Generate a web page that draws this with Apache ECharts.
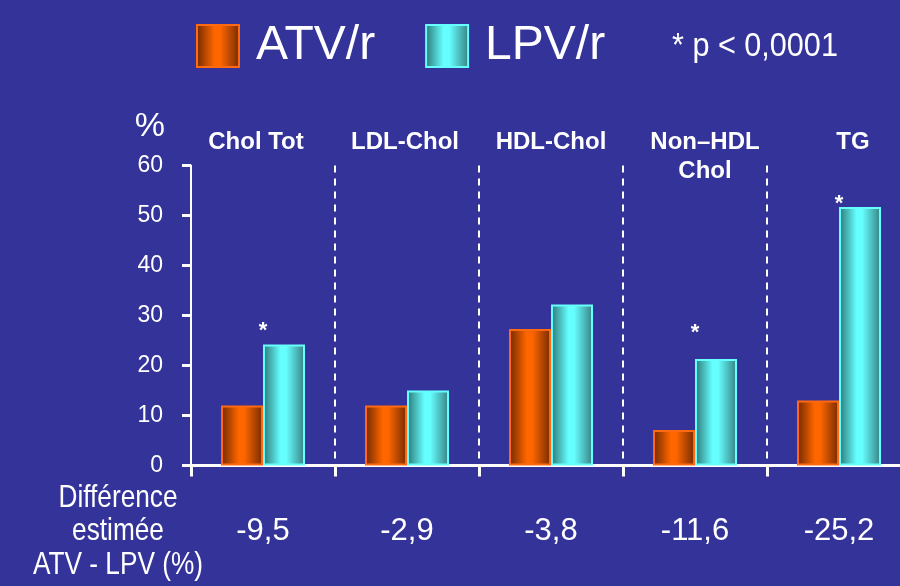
<!DOCTYPE html>
<html>
<head>
<meta charset="utf-8">
<script src="https://cdn.jsdelivr.net/npm/echarts@6/dist/echarts.min.js"></script>
<style>
  html, body { margin: 0; padding: 0; background: #333399; }
  #chart { width: 900px; height: 586px; }
</style>
</head>
<body>
<div id="chart"></div>
<script>
// Lipid parameters, % change under each treatment
const categories = ['Chol Tot', 'LDL-Chol', 'HDL-Chol', 'Non\u2013HDL\nChol', 'TG'];
const atvValues = [12, 12, 27.3, 7.1, 13];
const lpvValues = [24.2, 15, 32.2, 21.3, 51.7];
// Estimated difference ATV - LPV (%)
const diffLabels = ['-9,5', '-2,9', '-3,8', '-11,6', '-25,2'];
// p < 0,0001 flags
const significant = [true, false, false, true, true];
const yTicks = { min: 0, max: 60, step: 10 };

const FONT = '"Liberation Sans", Arial, sans-serif';
const WHITE = '#ffffff';

function hGrad(edgeL, mid, edgeR) {
  return new echarts.graphic.LinearGradient(0, 0, 1, 0, [
    { offset: 0, color: edgeL },
    { offset: 0.42, color: mid },
    { offset: 0.55, color: mid },
    { offset: 1, color: edgeR }
  ]);
}
const orangeFill = hGrad('#702800', '#ff6600', '#742a00');
const cyanFill = hGrad('#2c7676', '#66ffff', '#357f80');

// star label gap above each flagged bar
const starGap = [3, 0, 0, 15, -8];
// horizontal nudge of each header label (px, + = right)
const headerShift = [-7, -2, 0, 10, 14];

const headerRich = {};
headerShift.forEach((dx, i) => {
  headerRich['h' + i] = {
    color: WHITE, fontSize: 24, fontWeight: 'bold', fontFamily: FONT, lineHeight: 29,
    padding: dx >= 0 ? [0, 0, 0, 2 * dx] : [0, -2 * dx, 0, 0]
  };
});

const lpvData = lpvValues.map((v, i) => ({
  value: v,
  label: significant[i] ? {
    show: true,
    formatter: '*',
    position: 'top',
    distance: starGap[i],
    offset: [-21, 0],
    color: WHITE,
    fontSize: 22,
    fontWeight: 'bold',
    fontFamily: FONT
  } : { show: false }
}));

const chart = echarts.init(document.getElementById('chart'), null, { renderer: 'canvas' });
chart.setOption({
  backgroundColor: '#333399',
  animation: false,
  legend: {
    left: 196,
    top: 22,
    padding: 0,
    icon: 'rect',
    itemWidth: 42,
    itemHeight: 42,
    itemGap: 50,
    textStyle: { color: WHITE, fontSize: 48, fontFamily: FONT, padding: [0, 0, 0, 12] },
    data: ['ATV/r', 'LPV/r']
  },
  graphic: [
    {
      type: 'text', x: 672, y: 30, scaleX: 0.9,
      style: { text: '* p < 0,0001', fill: WHITE, fontSize: 34, fontFamily: FONT, verticalAlign: 'top' }
    },
    {
      type: 'text', x: 118, y: 481, scaleX: 0.82,
      style: {
        text: 'Diff\u00e9rence\nestim\u00e9e\nATV - LPV (%)',
        fill: WHITE, fontSize: 32, lineHeight: 33.5, fontFamily: FONT,
        align: 'center', verticalAlign: 'top'
      }
    }
  ],
  grid: { left: 191, top: 165.5, width: 720, height: 300, containLabel: false, outerBoundsMode: 'none' },
  xAxis: [
    {
      type: 'category',
      position: 'bottom',
      data: categories,
      axisLine: { lineStyle: { color: WHITE, width: 3 } },
      axisTick: { show: true, length: 11, lineStyle: { color: WHITE, width: 3 } },
      axisLabel: {
        interval: 0,
        formatter: (v, i) => diffLabels[i],
        color: WHITE, fontSize: 31, fontFamily: FONT, margin: 50
      },
      splitLine: { show: true, interval: 0, lineStyle: { color: WHITE, width: 2, type: [7, 6] } }
    },
    {
      type: 'category',
      position: 'top',
      data: categories,
      axisLine: { show: false },
      axisTick: { show: false },
      axisLabel: {
        interval: 0,
        hideOverlap: false,
        formatter: (v, i) => v.split('\n').map(line => '{h' + i + '|' + line + '}').join('\n'),
        rich: headerRich,
        color: WHITE, fontSize: 24, fontWeight: 'bold', fontFamily: FONT,
        lineHeight: 29, verticalAlign: 'top', margin: 38
      }
    }
  ],
  yAxis: {
    type: 'value',
    min: yTicks.min,
    max: yTicks.max,
    interval: yTicks.step,
    name: '%',
    nameLocation: 'end',
    nameGap: 22,
    nameTextStyle: { color: WHITE, fontSize: 34, fontFamily: FONT, align: 'right', padding: [0, 26, 0, 0] },
    axisLine: { show: true, lineStyle: { color: WHITE, width: 2 } },
    axisTick: { show: true, length: 9, lineStyle: { color: WHITE, width: 3 } },
    axisLabel: { color: WHITE, fontSize: 23, fontFamily: FONT, margin: 28 },
    splitLine: { show: false }
  },
  series: [
    {
      name: 'ATV/r',
      type: 'bar',
      data: atvValues,
      barWidth: 42,
      barGap: '0%',
      itemStyle: { color: orangeFill, borderColor: '#ff6a10', borderWidth: 2 }
    },
    {
      name: 'LPV/r',
      type: 'bar',
      data: lpvData,
      barWidth: 42,
      barGap: '0%',
      itemStyle: { color: cyanFill, borderColor: '#66ffff', borderWidth: 2 }
    }
  ]
});
</script>
</body>
</html>
